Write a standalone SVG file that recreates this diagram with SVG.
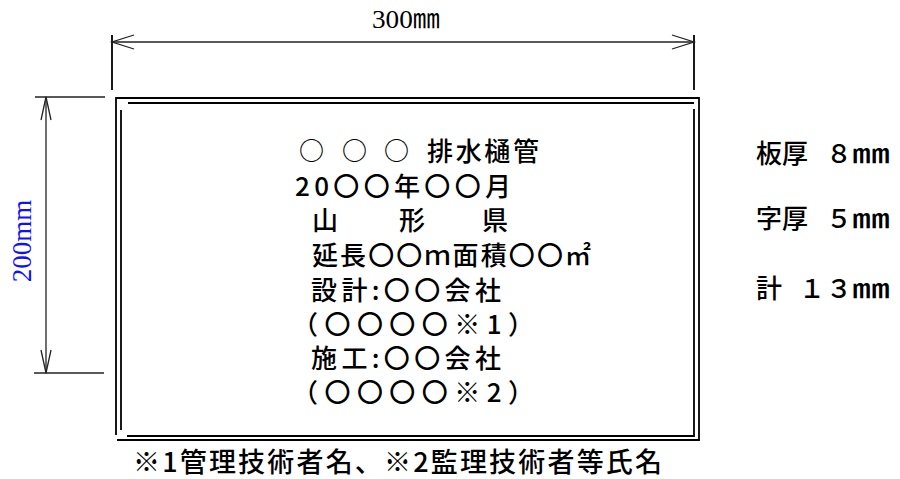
<svg xmlns="http://www.w3.org/2000/svg" width="900" height="479" viewBox="0 0 900 479">
<style>
.ln{stroke:#000;stroke-width:1.8;fill:none}
.dim{stroke:#222;stroke-width:1.3;fill:none}
.t{font-family:"Noto Sans CJK JP","Liberation Sans",sans-serif;font-size:26px;font-weight:500;fill:#000}
.s{font-family:"Liberation Serif","Noto Sans CJK JP",serif}
</style>
<rect width="900" height="479" fill="#fff"/>
<g id="connectors">
<line class="ln" x1="112" y1="35" x2="112" y2="90" stroke-width="2.8"/>
<line class="ln" x1="694" y1="35" x2="694" y2="90" stroke-width="2.8"/>
<line class="dim" x1="112" y1="42" x2="694" y2="42"/>
<polyline class="dim" points="134,35 112,42 134,49"/>
<polyline class="dim" points="672,35 694,42 672,49"/>
<line class="dim" x1="35" y1="97" x2="105" y2="97"/>
<line class="dim" x1="34" y1="373" x2="104" y2="373"/>
<line class="dim" x1="46" y1="97" x2="46" y2="373"/>
<polyline class="dim" points="41,120 46,97 51,120"/>
<polyline class="dim" points="41,350 46,373 51,350"/>
</g>
<g id="plate">
<polyline class="ln" points="116,435 116,98 699,98 699,440 117,440"/>
<polyline class="ln" points="128,103 694,103"/>
<polyline class="ln" points="121,110 121,430"/>
<polyline class="ln" points="694,109 694,436 127,436"/>
</g>
<g id="dim-labels">
<text class="s" x="372" y="28" textLength="68" lengthAdjust="spacingAndGlyphs" font-size="26">300㎜</text>
<text class="s" x="0" y="0" fill="#1010ff" font-size="27" text-anchor="middle" transform="translate(31,241) rotate(-90)">200mm</text>
</g>
<g id="plate-text" class="t">
<text x="299" y="160" font-size="25">○</text>
<text x="342" y="160" font-size="25">○</text>
<text x="384" y="160" font-size="25">○</text>
<text x="427" y="161" textLength="112" lengthAdjust="spacing">排水樋管</text>
<text x="295" y="196" textLength="216" lengthAdjust="spacing">20〇〇年〇〇月</text>
<text x="312" y="230">山</text>
<text x="399" y="230">形</text>
<text x="482" y="230">県</text>
<text x="312" y="265" textLength="279" lengthAdjust="spacing">延長〇〇ｍ面積〇〇㎡</text>
<text x="311" y="300" textLength="190" lengthAdjust="spacing">設計:〇〇会社</text>
<text x="292" y="334" textLength="242" lengthAdjust="spacing">（〇〇〇〇※1）</text>
<text x="311" y="368" textLength="190" lengthAdjust="spacing">施工:〇〇会社</text>
<text x="292" y="402" textLength="242" lengthAdjust="spacing">（〇〇〇〇※2）</text>
</g>
<g id="spec" class="t">
<text x="756" y="163" textLength="52" lengthAdjust="spacing">板厚</text>
<text x="839" y="163" text-anchor="middle">８</text>
<text x="852" y="163" textLength="38" lengthAdjust="spacingAndGlyphs">㎜</text>
<text x="756" y="228" textLength="52" lengthAdjust="spacing">字厚</text>
<text x="839" y="228" text-anchor="middle">５</text>
<text x="852" y="228" textLength="38" lengthAdjust="spacingAndGlyphs">㎜</text>
<text x="756" y="298">計</text>
<text x="812" y="298" text-anchor="middle">１</text>
<text x="839" y="298" text-anchor="middle">３</text>
<text x="852" y="298" textLength="38" lengthAdjust="spacingAndGlyphs">㎜</text>
</g>
<g id="note" class="t">
<text x="133" y="472" textLength="529" lengthAdjust="spacing" font-size="27">※1管理技術者名、※2監理技術者等氏名</text>
</g>
</svg>
